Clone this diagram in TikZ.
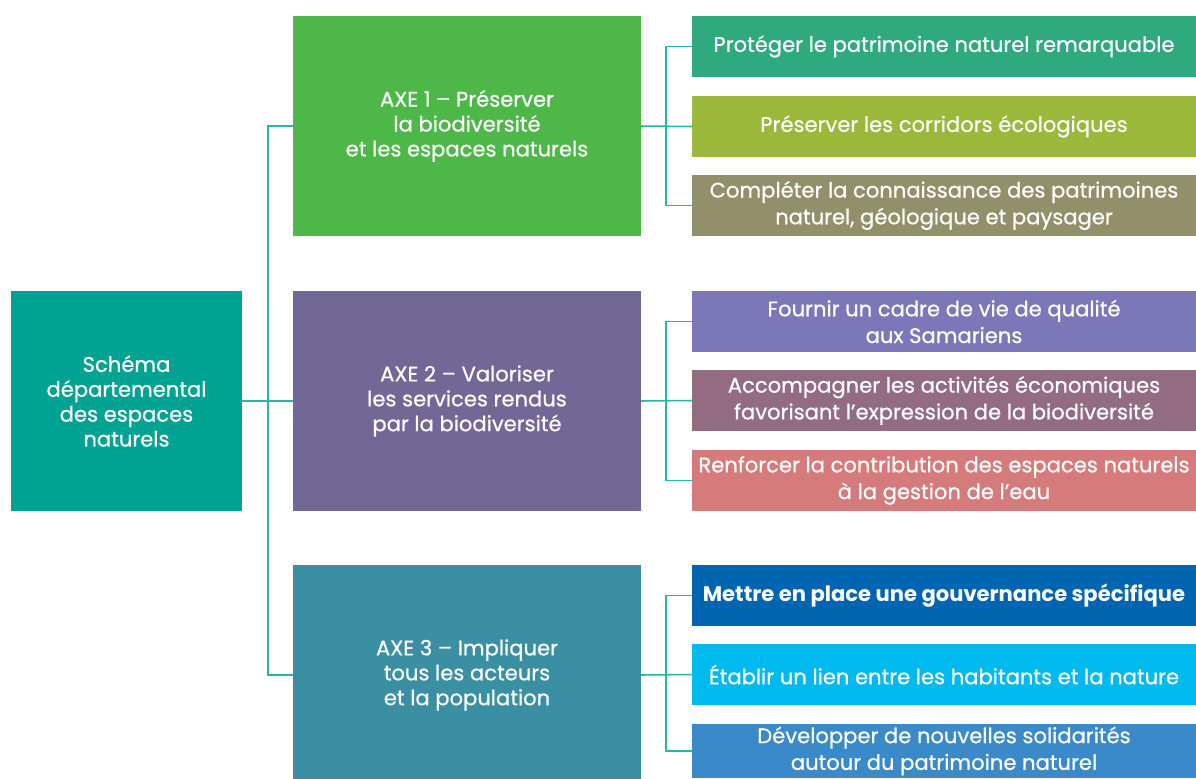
\documentclass[tikz,border=0pt]{standalone}
\usepackage{fontspec}
\setmainfont{Poppins}
\newfontfamily\heavyfont[FakeBold=0.6]{Poppins}
\usetikzlibrary{positioning}

\definecolor{rootcol}{HTML}{00A391}
\definecolor{axeAcol}{HTML}{4DB848}
\definecolor{axeBcol}{HTML}{716896}
\definecolor{axeCcol}{HTML}{3A8FA3}
\definecolor{aAcol}{HTML}{2EAA7E}
\definecolor{aBcol}{HTML}{9BB83A}
\definecolor{aCcol}{HTML}{91906A}
\definecolor{bAcol}{HTML}{7B77B8}
\definecolor{bBcol}{HTML}{936C81}
\definecolor{bCcol}{HTML}{D57B7C}
\definecolor{cAcol}{HTML}{0065B0}
\definecolor{cBcol}{HTML}{00B9EE}
\definecolor{cCcol}{HTML}{3A8ACA}
\definecolor{linkcol}{HTML}{2AB5A5}

\tikzset{
  box/.style={inner sep=0pt, outer sep=0pt, text=white, align=center,
    font=\heavyfont\fontsize{15}{17.7}\selectfont},
  rootbox/.style={box, minimum width=231*0.025cm, minimum height=220*0.025cm},
  axebox/.style={box, minimum width=348*0.025cm, minimum height=220*0.025cm},
  goalbox/.style={box, minimum width=504*0.025cm, minimum height=61*0.025cm,
    font=\heavyfont\fontsize{15}{19}\selectfont},
  link/.style={draw=linkcol, line width=1.1pt},
}

\begin{document}
\begin{tikzpicture}[x=0.025cm, y=-0.025cm]
    \useasboundingbox[fill=white] (0,0) rectangle (1196,778);

    % left: the schema itself
    \node[rootbox, fill=rootcol] (root) at (126.5,401)
        {Schéma\\départemental\\des espaces\\naturels};

    % the three axes
    \node[axebox, fill=axeAcol] (axeA) at (467,126)
        {AXE 1 – Préserver\\la biodiversité\\et les espaces naturels};
    \node[axebox, fill=axeBcol] (axeB) at (467,401)
        {AXE 2 – Valoriser\\les services rendus\\par la biodiversité};
    \node[axebox, fill=axeCcol] (axeC) at (467,675)
        {AXE 3 – Impliquer\\tous les acteurs\\et la population};

    % goals of axe 1
    \node[goalbox, fill=aAcol] (aA) at (944,46.5)
        {Protéger le patrimoine naturel remarquable};
    \node[goalbox, fill=aBcol] (aB) at (944,126.5)
        {Préserver les corridors écologiques};
    \node[goalbox, fill=aCcol] (aC) at (944,205.5)
        {Compléter la connaissance des patrimoines\\naturel, géologique et paysager};

    % goals of axe 2
    \node[goalbox, fill=bAcol] (bA) at (944,321.5)
        {Fournir un cadre de vie de qualité\\aux Samariens};
    \node[goalbox, fill=bBcol] (bB) at (944,400.5)
        {Accompagner les activités économiques\\favorisant l’expression de la biodiversité};
    \node[goalbox, fill=bCcol] (bC) at (944,480.5)
        {Renforcer la contribution des espaces naturels\\à la gestion de l’eau};

    % goals of axe 3 (the last one is cut by the page)
    \node[goalbox, fill=cAcol, font=\fontsize{15}{19}\selectfont\bfseries] (cA) at (944,595.5)
        {Mettre en place une gouvernance spécifique};
    \node[goalbox, fill=cBcol] (cB) at (944,674.5)
        {Établir un lien entre les habitants et la nature};
    \node[goalbox, fill=cCcol, minimum height=54*0.025cm] (cC) at (944,751)
        {Développer de nouvelles solidarités\\autour du patrimoine naturel};

    % links
    \draw[link] (root.east) -- (axeB.west);
    \draw[link] (axeA.west) -- ++(-25,0) coordinate (spine) |- (axeC.west);

    \draw[link] (axeA.east) -- (aB.west);
    \draw[link] (aA.west) -- ++(-26,0) |- (aC.west);
    \draw[link] (axeB.east) -- (bB.west);
    \draw[link] (bA.west) -- ++(-26,0) |- (bC.west);
    \draw[link] (axeC.east) -- (cB.west);
    \draw[link] (cA.west) -- ++(-26,0) |- (cC.west);
\end{tikzpicture}
\end{document}
